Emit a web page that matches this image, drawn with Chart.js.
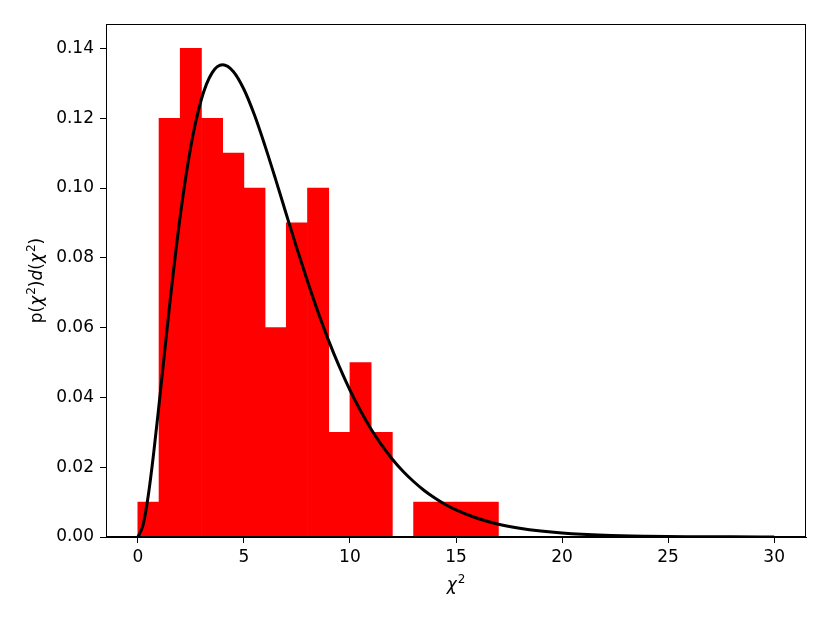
<!DOCTYPE html>
<html>
<head>
<meta charset="utf-8">
<script src="https://cdn.jsdelivr.net/npm/chart.js@4/dist/chart.umd.min.js"></script>
<style>
html,body{margin:0;padding:0;background:#fff;}
canvas{display:block;}
</style>
</head>
<body>
<canvas id="c" width="830" height="623"></canvas>
<script>
// Histogram bins (left edges, width 1) and heights
const binLeft = [0,1,2,3,4,5,6,7,8,9,10,11,12,13,14,15,16];
const binHeight = [0.01,0.12,0.14,0.12,0.11,0.10,0.06,0.09,0.10,0.03,0.05,0.03,0.00,0.01,0.01,0.01,0.01];
// Smooth curve
const curveX = [0,0.25,0.5,0.75,1,1.5,2,2.5,3,3.5,4,4.5,5,5.5,6,6.5,7,7.5,8,8.5,9,9.5,10,10.5,11,11.5,12,12.5,13,13.5,14,14.5,15,16,17,18,19,20,22,24,26,28,30];
const curveY = [0,0.00345,0.01217,0.02416,0.03791,0.06643,0.09197,0.1119,0.1255,0.1330,0.1353,0.1334,0.1283,0.1209,0.1120,0.1024,0.0925,0.0827,0.0733,0.0644,0.0562,0.0488,0.0421,0.0362,0.0309,0.0263,0.0223,0.01885,0.0159,0.01334,0.0112,0.00933,0.00778,0.00537,0.00367,0.0025,0.00169,0.00114,0.000505,0.000221,0.0000955,0.0000407,0.0000172];
const xTicks = [0,5,10,15,20,25,30];
const yTicks = [0,0.02,0.04,0.06,0.08,0.10,0.12,0.14];
// Axis titles as text segments: [text, style] where style: n=normal, i=italic, s=superscript
const xTitle = [['χ','i'],['2','s']];
const yTitle = [['p','n'],['(','n'],['χ','i'],['2','s'],[')','n'],['d','i'],['(','n'],['χ','i'],['2','s'],[')','n']];

const FONT = 'DejaVu Sans';

function segFont(st) {
  if (st === 'i') return 'italic 17px "' + FONT + '"';
  if (st === 's') return '12px "' + FONT + '"';
  return '17px "' + FONT + '"';
}
function drawSegs(ctx, segs, cx, baseline) {
  let total = 0;
  const widths = segs.map(([t, st]) => { ctx.font = segFont(st); const w = ctx.measureText(t).width + (st === 's' ? 1 : 0); total += w; return w; });
  let x = cx - total / 2;
  ctx.textAlign = 'left';
  ctx.textBaseline = 'alphabetic';
  segs.forEach(([t, st], i) => {
    ctx.font = segFont(st);
    ctx.fillText(t, x + (st === 's' ? 1 : 0), st === 's' ? baseline - 7 : baseline);
    x += widths[i];
  });
}

const framePlugin = {
  id: 'frame',
  afterDraw(chart) {
    const a = chart.chartArea, ctx = chart.ctx;
    ctx.save();
    ctx.strokeStyle = '#000';
    ctx.lineWidth = 1;
    ctx.strokeRect(Math.round(a.left) + 0.5, Math.round(a.top) + 0.5, Math.round(a.right - a.left) - 1, Math.round(a.bottom - a.top) - 1);
    ctx.fillStyle = '#000';
    const cx = (a.left + a.right) / 2;
    drawSegs(ctx, xTitle, cx, 590);
    ctx.save();
    ctx.translate(42, (a.top + a.bottom) / 2);
    ctx.rotate(-Math.PI / 2);
    drawSegs(ctx, yTitle, 0, 0);
    ctx.restore();
    ctx.restore();
  }
};

new Chart(document.getElementById('c'), {
  type: 'bar',
  data: {
    datasets: [
      {
        type: 'line',
        data: curveX.map((x, i) => ({x: x, y: curveY[i]})),
        borderColor: '#000',
        borderWidth: 3,
        pointRadius: 0,
        fill: false,
        cubicInterpolationMode: 'monotone',
        order: 0
      },
      {
        type: 'bar',
        data: binLeft.map((x, i) => ({x: x + 0.5, y: binHeight[i]})),
        backgroundColor: '#ff0000',
        borderWidth: 0,
        barPercentage: 1.0,
        categoryPercentage: 1.0,
        order: 1
      }
    ]
  },
  options: {
    responsive: false,
    animation: false,
    devicePixelRatio: 1,
    layout: {padding: {top: 24, right: 24, left: 0, bottom: 0}},
    plugins: {legend: {display: false}, tooltip: {enabled: false}},
    scales: {
      x: {
        type: 'linear',
        min: -1.5,
        max: 31.5,
        offset: false,
        afterBuildTicks(scale) { scale.ticks = xTicks.map(v => ({value: v})); },
        afterFit(scale) { scale.height = 86; },
        grid: {display: true, drawOnChartArea: false, drawTicks: true, tickLength: 6, color: '#000', offset: false},
        border: {display: true, color: '#000', width: 1},
        ticks: {color: '#000', font: {family: FONT, size: 17}, padding: 4, maxRotation: 0, callback: v => String(v)},
        title: {display: false}
      },
      y: {
        type: 'linear',
        min: 0,
        max: 0.147,
        afterBuildTicks(scale) { scale.ticks = yTicks.map(v => ({value: v})); },
        afterFit(scale) { scale.width = 106; },
        grid: {display: true, drawOnChartArea: false, drawTicks: true, tickLength: 6, color: '#000'},
        border: {display: true, color: '#000', width: 1},
        ticks: {color: '#000', font: {family: FONT, size: 17}, padding: 6, callback: v => v.toFixed(2)},
        title: {display: false}
      }
    }
  },
  plugins: [framePlugin]
});
</script>
</body>
</html>
